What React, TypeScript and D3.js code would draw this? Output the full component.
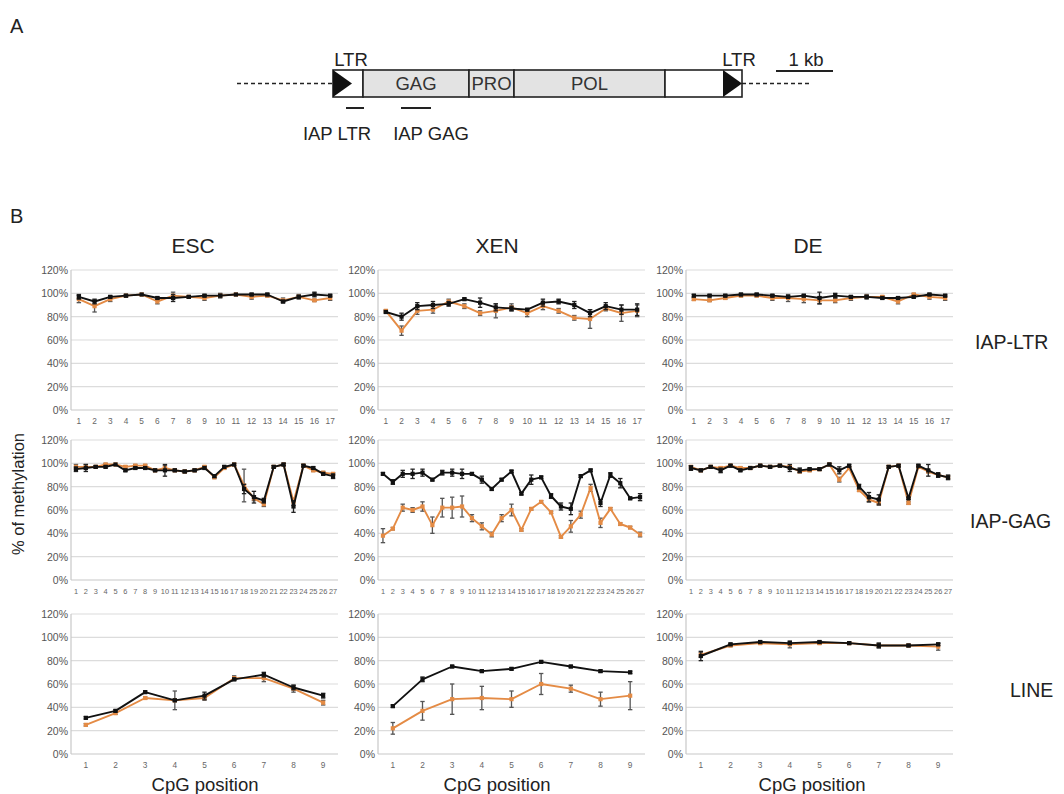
import React from "react";
import * as d3 from "d3";

// ---- labels ----
const cellTypes = ["ESC", "XEN", "DE"];
const regions = ["IAP-LTR", "IAP-GAG", "LINE"];
const ltrPositions = ["1", "2", "3", "4", "5", "6", "7", "8", "9", "10", "11", "12", "13", "14", "15", "16", "17"];
const gagPositions = ["1", "2", "3", "4", "5", "6", "7", "8", "9", "10", "11", "12", "13", "14", "15", "16", "17", "18", "19", "20", "21", "22", "23", "24", "25", "26", "27"];
const linePositions = ["1", "2", "3", "4", "5", "6", "7", "8", "9"];
const yTicks = [0, 20, 40, 60, 80, 100, 120];

// ---- methylation (%) : black and orange series with error bars ----
// ESC
const escLtrBlack = [97, 93, 97, 98, 99, 96, 96, 97, 98, 98, 99, 99, 99, 93, 97, 99, 98];
const escLtrBlackErr = [2, 2, 1, 1, 0, 1, 3, 1, 1, 1, 0, 1, 1, 1, 1, 2, 1];
const escLtrOrange = [95, 89, 95, 98, 99, 93, 98, 97, 96, 98, 99, 97, 98, 94, 97, 94, 96];
const escLtrOrangeErr = [3, 5, 2, 1, 0, 2, 3, 1, 2, 2, 0, 2, 1, 2, 2, 1, 2];

const escGagBlack = [95, 96, 97, 97, 99, 94, 96, 96, 94, 94, 94, 93, 94, 96, 89, 97, 99, 78, 71, 68, 97, 99, 63, 98, 96, 91, 89];
const escGagBlackErr = [2, 3, 1, 1, 0, 1, 1, 1, 1, 5, 1, 1, 1, 1, 1, 1, 0, 4, 5, 2, 1, 1, 5, 1, 1, 1, 2];
const escGagOrange = [97, 97, 97, 99, 99, 97, 98, 98, 94, 96, 94, 93, 94, 97, 88, 96, 99, 81, 70, 65, 97, 99, 67, 98, 94, 92, 91];
const escGagOrangeErr = [2, 2, 1, 1, 0, 1, 1, 1, 1, 2, 1, 1, 1, 1, 1, 1, 1, 14, 2, 2, 1, 1, 3, 1, 1, 1, 1];

const escLineBlack = [31, 37, 53, 46, 50, 64, 68, 57, 50];
const escLineBlackErr = [1, 1, 1, 1, 3, 1, 2, 2, 2];
const escLineOrange = [25, 35, 48, 46, 48, 65, 65, 56, 44];
const escLineOrangeErr = [1, 1, 1, 8, 2, 2, 3, 3, 2];

// XEN
const xenLtrBlack = [84, 80, 89, 90, 91, 95, 92, 88, 87, 86, 92, 93, 90, 83, 89, 86, 86];
const xenLtrBlackErr = [1, 3, 3, 3, 2, 1, 4, 3, 2, 1, 3, 2, 3, 3, 3, 4, 5];
const xenLtrOrange = [85, 68, 85, 86, 93, 89, 83, 85, 88, 83, 89, 85, 79, 78, 87, 83, 85];
const xenLtrOrangeErr = [1, 4, 3, 3, 2, 2, 2, 6, 3, 3, 3, 2, 2, 8, 2, 7, 5];

const xenGagBlack = [91, 84, 91, 91, 92, 86, 92, 92, 91, 91, 86, 78, 86, 93, 74, 86, 88, 72, 63, 61, 89, 94, 66, 90, 83, 70, 71];
const xenGagBlackErr = [1, 2, 3, 4, 3, 1, 2, 3, 4, 1, 3, 1, 1, 1, 1, 4, 1, 2, 3, 5, 1, 1, 3, 2, 4, 1, 3];
const xenGagOrange = [38, 44, 62, 60, 63, 47, 62, 62, 63, 53, 46, 39, 53, 60, 43, 61, 67, 58, 37, 46, 56, 79, 49, 61, 48, 45, 39];
const xenGagOrangeErr = [6, 1, 3, 2, 4, 7, 8, 9, 9, 3, 3, 2, 3, 5, 1, 1, 1, 1, 1, 5, 3, 3, 4, 1, 1, 1, 2];

const xenLineBlack = [41, 64, 75, 71, 73, 79, 75, 71, 70];
const xenLineBlackErr = [1, 2, 1, 1, 1, 1, 1, 1, 1];
const xenLineOrange = [22, 37, 47, 48, 47, 60, 56, 47, 50];
const xenLineOrangeErr = [5, 8, 13, 10, 7, 9, 3, 6, 12];

// DE
const deLtrBlack = [98, 98, 98, 99, 99, 98, 97, 98, 96, 98, 97, 97, 96, 96, 97, 99, 98];
const deLtrBlackErr = [1, 1, 1, 1, 1, 1, 1, 1, 5, 2, 1, 1, 1, 1, 1, 1, 1];
const deLtrOrange = [95, 94, 96, 98, 98, 96, 96, 95, 94, 94, 96, 97, 97, 93, 99, 97, 96];
const deLtrOrangeErr = [1, 1, 1, 1, 1, 2, 3, 3, 3, 2, 2, 2, 1, 2, 1, 2, 2];

const deGagBlack = [96, 94, 97, 94, 98, 94, 96, 98, 97, 98, 96, 94, 95, 95, 99, 94, 98, 80, 71, 69, 97, 98, 70, 98, 94, 90, 88];
const deGagBlackErr = [2, 1, 1, 2, 1, 1, 1, 1, 1, 1, 3, 2, 1, 1, 1, 3, 1, 2, 4, 4, 1, 1, 1, 1, 5, 2, 2];
const deGagOrange = [97, 94, 97, 96, 98, 96, 96, 98, 97, 98, 97, 93, 94, 95, 99, 86, 96, 77, 69, 66, 97, 98, 66, 97, 93, 90, 88];
const deGagOrangeErr = [1, 1, 1, 1, 1, 1, 1, 1, 1, 1, 1, 1, 1, 1, 1, 2, 1, 1, 2, 2, 1, 1, 1, 1, 1, 1, 1];

const deLineBlack = [84, 94, 96, 95, 96, 95, 93, 93, 94];
const deLineBlackErr = [4, 1, 1, 1, 1, 1, 2, 1, 1];
const deLineOrange = [85, 93, 95, 94, 95, 95, 93, 93, 92];
const deLineOrangeErr = [2, 1, 1, 3, 1, 1, 2, 1, 3];

// ---- layout ----
const W = 1064;
const H = 794;
const colLeft = [71, 378, 686];
const plotW = 267;
const rowTop = [270, 440, 614];
const rowBottom = [410, 580, 754];
const FONT = "'Liberation Sans', Arial, sans-serif";
const BLACK = "#111111";
const ORANGE = "#E48B45";

type Panel = {
  row: number;
  col: number;
  positions: string[];
  black: number[];
  blackErr: number[];
  orange: number[];
  orangeErr: number[];
};

const positionsByRow = [ltrPositions, gagPositions, linePositions];
const seriesGrid = [
  [
    [escLtrBlack, escLtrBlackErr, escLtrOrange, escLtrOrangeErr],
    [xenLtrBlack, xenLtrBlackErr, xenLtrOrange, xenLtrOrangeErr],
    [deLtrBlack, deLtrBlackErr, deLtrOrange, deLtrOrangeErr],
  ],
  [
    [escGagBlack, escGagBlackErr, escGagOrange, escGagOrangeErr],
    [xenGagBlack, xenGagBlackErr, xenGagOrange, xenGagOrangeErr],
    [deGagBlack, deGagBlackErr, deGagOrange, deGagOrangeErr],
  ],
  [
    [escLineBlack, escLineBlackErr, escLineOrange, escLineOrangeErr],
    [xenLineBlack, xenLineBlackErr, xenLineOrange, xenLineOrangeErr],
    [deLineBlack, deLineBlackErr, deLineOrange, deLineOrangeErr],
  ],
];

const panels: Panel[] = [];
seriesGrid.forEach((rowSeries, row) =>
  rowSeries.forEach(([black, blackErr, orange, orangeErr], col) =>
    panels.push({ row, col, positions: positionsByRow[row], black, blackErr, orange, orangeErr })
  )
);

function Series({ values, errs, x, y, positions, color, errColor }: any) {
  const line = d3
    .line<number>()
    .x((_, i) => (x(positions[i]) as number) + x.bandwidth() / 2)
    .y((v) => y(v));
  const m = 4.2;
  return (
    <g>
      {values.map((v: number, i: number) => {
        const cx = (x(positions[i]) as number) + x.bandwidth() / 2;
        const e = errs[i];
        if (!e) return null;
        return (
          <g key={"e" + i} stroke={errColor} strokeWidth={1.3}>
            <line x1={cx} x2={cx} y1={y(v - e)} y2={y(v + e)} />
            <line x1={cx - 2.2} x2={cx + 2.2} y1={y(v - e)} y2={y(v - e)} />
            <line x1={cx - 2.2} x2={cx + 2.2} y1={y(v + e)} y2={y(v + e)} />
          </g>
        );
      })}
      <path d={line(values) || ""} fill="none" stroke={color} strokeWidth={1.9} strokeLinejoin="round" />
      {values.map((v: number, i: number) => {
        const cx = (x(positions[i]) as number) + x.bandwidth() / 2;
        return <rect key={"m" + i} x={cx - m / 2} y={y(v) - m / 2} width={m} height={m} fill={color} />;
      })}
    </g>
  );
}

function ChartPanel({ p }: { p: Panel }) {
  const left = colLeft[p.col];
  const top = rowTop[p.row];
  const bottom = rowBottom[p.row];
  const x = d3.scaleBand<string>().domain(p.positions).range([left, left + plotW]);
  const y = d3.scaleLinear().domain([0, 120]).range([bottom, top]);
  const dense = p.positions.length > 20;
  return (
    <g>
      {yTicks.map((t) => (
        <g key={t}>
          <line x1={left} x2={left + plotW} y1={y(t)} y2={y(t)} stroke={t === 0 ? "#c8c8c8" : "#dcdcdc"} strokeWidth={1.2} />
          <text x={left - 3} y={y(t) + 4} textAnchor="end" fontSize={10.5} fill="#555" fontFamily={FONT}>
            {t + "%"}
          </text>
        </g>
      ))}
      <line x1={left} x2={left} y1={top} y2={bottom} stroke="#c8c8c8" strokeWidth={1.2} />
      {p.positions.map((c) => (
        <text
          key={c}
          x={(x(c) as number) + x.bandwidth() / 2}
          y={bottom + 14}
          textAnchor="middle"
          fontSize={dense ? 7.4 : 8.3}
          fill="#666"
          fontFamily={FONT}
        >
          {c}
        </text>
      ))}
      <Series values={p.orange} errs={p.orangeErr} x={x} y={y} positions={p.positions} color={ORANGE} errColor="#555" />
      <Series values={p.black} errs={p.blackErr} x={x} y={y} positions={p.positions} color={BLACK} errColor="#222" />
    </g>
  );
}

function GenomeMap() {
  const ty = 70;
  const bh = 27;
  const cy = ty + bh / 2;
  const segs = [
    { x0: 333, x1: 363, fill: "#ffffff", label: "" },
    { x0: 363, x1: 469, fill: "#e3e3e3", label: "GAG" },
    { x0: 469, x1: 514, fill: "#e3e3e3", label: "PRO" },
    { x0: 514, x1: 665, fill: "#e3e3e3", label: "POL" },
    { x0: 665, x1: 742, fill: "#ffffff", label: "" },
  ];
  return (
    <g fontFamily={FONT} fill="#222">
      <line x1={237} x2={333} y1={cy} y2={cy} stroke="#222" strokeWidth={1.6} strokeDasharray="4,3" />
      <line x1={742} x2={812} y1={cy} y2={cy} stroke="#222" strokeWidth={1.6} strokeDasharray="4,3" />
      {segs.map((s, i) => (
        <g key={i}>
          <rect x={s.x0} y={ty} width={s.x1 - s.x0} height={bh} fill={s.fill} stroke="#222" strokeWidth={1.6} />
          {s.label && (
            <text x={(s.x0 + s.x1) / 2} y={cy + 6.5} textAnchor="middle" fontSize={18.5} fill="#333">
              {s.label}
            </text>
          )}
        </g>
      ))}
      <path d={`M333,${ty} L352,${cy} L333,${ty + bh} Z`} fill="#111" />
      <path d={`M723,${ty} L742,${cy} L723,${ty + bh} Z`} fill="#111" />
      <text x={351} y={66} textAnchor="middle" fontSize={18.5}>LTR</text>
      <text x={739} y={66} textAnchor="middle" fontSize={18.5}>LTR</text>
      <line x1={776} x2={833} y1={71} y2={71} stroke="#222" strokeWidth={1.8} />
      <text x={806} y={66} textAnchor="middle" fontSize={18.5}>1 kb</text>
      <line x1={346} x2={364} y1={108} y2={108} stroke="#222" strokeWidth={2} />
      <line x1={401} x2={431} y1={108} y2={108} stroke="#222" strokeWidth={2} />
      <text x={337} y={140} textAnchor="middle" fontSize={18.5}>IAP LTR</text>
      <text x={431} y={140} textAnchor="middle" fontSize={18.5}>IAP GAG</text>
    </g>
  );
}

export default function App() {
  const titleX = [193, 497, 808];
  const cpgX = [205, 497, 812];
  const regionX = [975, 970, 1010];
  const regionY = [349, 528, 697];
  return (
    <svg width={W} height={H} style={{ position: "absolute", left: 0, top: 0, background: "#fff" }}>
      <rect width={W} height={H} fill="#fff" />
      <text x={10} y={33} fontSize={20} fontFamily={FONT} fill="#222">A</text>
      <text x={10} y={223} fontSize={20} fontFamily={FONT} fill="#222">B</text>
      <GenomeMap />
      {cellTypes.map((c, i) => (
        <text key={c} x={titleX[i]} y={253} textAnchor="middle" fontSize={21} fontFamily={FONT} fill="#222">
          {c}
        </text>
      ))}
      {regions.map((r, i) => (
        <text key={r} x={regionX[i]} y={regionY[i]} fontSize={19.5} fontFamily={FONT} fill="#222">
          {r}
        </text>
      ))}
      <text
        transform="translate(24,494) rotate(-90)"
        textAnchor="middle"
        fontSize={16.5}
        fontFamily={FONT}
        fill="#222"
      >
        % of methylation
      </text>
      {cpgX.map((cx, i) => (
        <text key={i} x={cx} y={791} textAnchor="middle" fontSize={18.5} fontFamily={FONT} fill="#222">
          CpG position
        </text>
      ))}
      {panels.map((p, i) => (
        <ChartPanel key={i} p={p} />
      ))}
    </svg>
  );
}
